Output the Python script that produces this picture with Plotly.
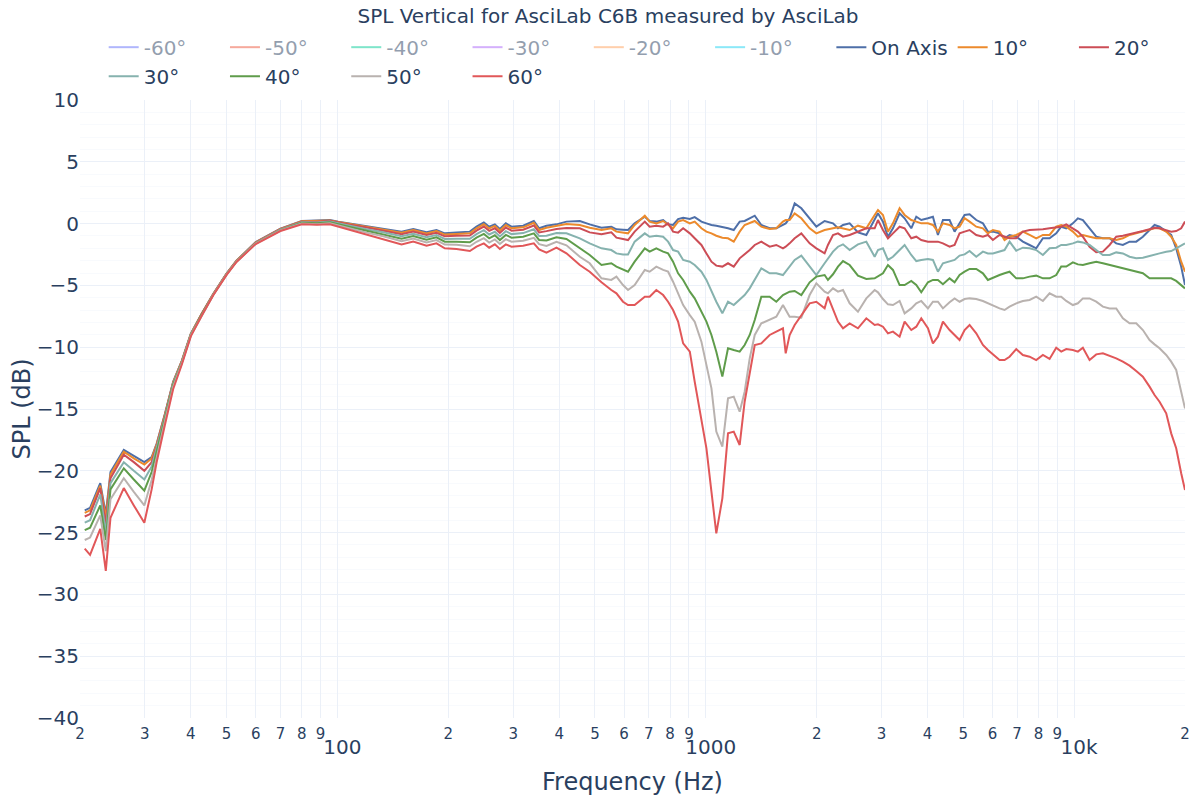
import plotly.graph_objects as go

TITLE = "SPL Vertical for AsciLab C6B measured by AsciLab"

FREQ = [
    20.6, 21.3, 22.7, 23.5, 24.2, 26.3, 28.0, 29.9, 31.3, 32.3, 34.0, 35.8, 37.8, 40.0,
    42.8, 46.0, 50.0, 53.2, 60.0, 70.0, 80.0, 88.0,
    95.4, 100.5, 108.1, 120.0, 133.1, 149.3, 160.6, 174.5, 185.7, 195.6, 210.5, 228.8,
    238.5, 249.7, 258.2, 267.5, 276.0, 286.5, 296.9, 319.3, 341.3, 352.8, 369.4, 393.2, 418.5,
    455, 484, 521, 554, 572, 596, 615, 641, 683, 704, 734, 766, 790, 815, 841, 868, 905, 933,
    973, 1004, 1036, 1068, 1109, 1149, 1191, 1236, 1275, 1316, 1358, 1415, 1491, 1554, 1620,
    1648, 1689, 1743, 1817, 1914, 1996, 2102, 2146, 2215, 2285, 2358, 2458, 2589, 2728,
    2874, 2934, 3027, 3123, 3222, 3359, 3466, 3613, 3728, 3846, 4010, 4137, 4268, 4404, 4591,
    4737, 4887, 5042, 5202, 5424, 5654, 5833, 6018, 6274, 6473, 6679, 6963, 7259, 7569, 7891,
    8227, 8577, 8942, 9226, 9519, 9923, 10238, 10563, 11013, 11482, 11970, 12480, 13011,
    13564, 14142, 14743, 15370, 16025, 16533, 17057, 17783, 18346, 18928, 19529, 20000,
]

SPL_ON_AXIS = [
    -23.2, -23.0, -21.0, -23.5, -20.1, -18.3, -18.8, -19.3, -18.9, -17.8, -15.4, -12.8, -11.1, -8.9,
    -7.3, -5.7, -4.05, -3.0, -1.5, -0.4, 0.22, 0.25,
    0.29, 0.16, 0.02, -0.17, -0.38, -0.65, -0.44, -0.70, -0.52, -0.79, -0.73, -0.65,
    -0.25, 0.10, -0.25, -0.06, -0.44, 0.02, -0.25, -0.17, 0.21, -0.38, -0.17, -0.06, 0.16,
    0.21, -0.06, -0.33, -0.25, -0.46, -0.49, -0.52, 0.02, 0.56, 0.21, 0.16, 0.29, -0.06, -0.11,
    0.37, 0.48, 0.37, 0.53, 0.16, 0.02, -0.11, -0.17, -0.25, -0.38, -0.52, 0.16, 0.21, 0.43,
    0.64, -0.11, -0.38, -0.38, -0.11, 0.02, 0.43, 1.64, 1.24, 0.43, -0.25, 0.21, 0.12, 0.02,
    -0.38, -0.11, 0.02, -0.71, -0.92,
    0.43, 0.83, 0.16, -1.06, -0.38, 0.83, 0.43, -0.38, 0.56, 0.29, 0.43, 0.56, -0.92, 0.29,
    0.29, -0.65, 0.02, 0.70, 0.75, 0.29, 0.02, -0.65, -0.65, -0.79, -1.19, -0.92, -1.06, -1.46,
    -1.73, -2.0, -1.19, -1.19, -0.79, -0.25, -0.38, 0.02, 0.43, 0.29, -0.38, -1.06, -1.19,
    -1.19, -1.60, -1.73, -1.46, -1.46, -1.06, -0.52, -0.11, -0.25, -0.65, -0.92, -2.0, -3.48,
    -4.97,
]

SPL_10 = [
    -23.4, -23.2, -21.2, -23.8, -20.3, -18.45, -19.0, -19.5, -19.0, -17.86, -15.45, -12.85, -11.1, -8.9,
    -7.3, -5.7, -4.05, -3.0, -1.52, -0.43, 0.19, 0.21,
    0.26, 0.13, -0.02, -0.23, -0.45, -0.73, -0.52, -0.79, -0.61, -0.89, -0.84, -0.78,
    -0.38, -0.04, -0.39, -0.19, -0.57, -0.12, -0.38, -0.30, 0.07, -0.52, -0.34, -0.21, -0.04,
    -0.11, -0.33, -0.52, -0.38, -0.65, -0.71, -0.79, -0.11, 0.64, 0.16, 0.02, 0.21, -0.11, -0.38,
    0.16, 0.29, 0.02, 0.16, -0.38, -0.65, -0.79, -0.98, -1.14, -1.19, -1.46, -0.65, -0.11, 0.02,
    0.21, -0.25, -0.44, -0.38, 0.16, 0.29, 0.29, 0.83, 0.43, -0.38, -0.79, -0.52, -0.45, -0.38,
    -0.30, -0.38, -0.52, -0.17, -0.38,
    0.70, 1.10, 0.70, -0.65, 0.02, 1.24, 0.70, 0.29, 0.16, 0.02, 0.02, -0.11, -0.65, 0.02,
    -0.11, -0.38, -0.25, 0.43, 0.16, -0.25, -0.38, -0.79, -0.52, -0.65, -1.33, -1.06, -0.92, -0.65,
    -0.92, -1.19, -0.92, -0.92, -0.25, -0.11, -0.25, -0.65, -1.06, -0.92, -1.06, -1.19, -1.19,
    -1.19, -1.33, -1.19, -0.92, -0.79, -0.65, -0.52, -0.38, -0.38, -0.65, -1.06, -1.73, -3.08,
    -3.89,
]

SPL_20 = [
    -23.7, -23.5, -21.4, -24.3, -20.6, -18.7, -19.3, -20.0, -19.3, -18.0, -15.5, -12.9, -11.15, -8.95,
    -7.32, -5.72, -4.07, -3.02, -1.54, -0.46, 0.15, 0.15,
    0.22, 0.08, -0.09, -0.32, -0.55, -0.86, -0.64, -0.92, -0.74, -1.03, -0.99, -0.96,
    -0.57, -0.24, -0.59, -0.38, -0.76, -0.32, -0.57, -0.49, -0.15, -0.72, -0.61, -0.44, -0.35,
    -0.38, -0.71, -0.87, -0.71, -1.14, -1.25, -1.33, -0.65, 0.16, -0.25, -0.17, -0.25, 0.02, -0.65,
    -0.73, -0.38, -0.79, -1.19, -1.73, -2.41, -3.08, -3.40, -3.48, -3.21, -3.48, -2.81, -2.49, -2.14,
    -1.73, -1.46, -1.87, -1.73, -2.0, -1.87, -1.60, -1.19, -0.79, -1.60, -2.0, -2.41, -1.73, -0.92,
    -0.79, -1.06, -0.92, -0.65, -0.38,
    -0.38, 0.29, -0.52, -1.19, -0.79, -0.25, -0.38, -1.19, -1.06, -1.33, -1.46, -1.46, -1.46, -1.60,
    -1.87, -1.73, -0.79, -0.65, -0.52, -0.92, -1.06, -0.92, -1.33, -0.92, -1.06, -1.19, -1.19, -0.65,
    -0.52, -0.52, -0.46, -0.38, -0.30, -0.25, -0.06, -0.38, -0.65, -1.06, -1.87, -2.32, -2.27,
    -1.73, -1.06, -0.98, -0.87, -0.71, -0.60, -0.46, -0.33, -0.38, -0.52, -0.65, -0.60, -0.38,
    0.16,
]

SPL_30 = [
    -24.2, -24.0, -21.9, -25.0, -21.0, -19.3, -20.0, -20.7, -19.65, -18.2, -15.65, -12.95, -11.2, -8.95,
    -7.35, -5.74, -4.09, -3.04, -1.57, -0.5, 0.11, 0.08,
    0.16, 0.01, -0.18, -0.45, -0.70, -1.03, -0.82, -1.10, -0.92, -1.24, -1.22, -1.23,
    -0.85, -0.53, -0.88, -0.66, -1.04, -0.61, -0.85, -0.77, -0.46, -1.01, -0.98, -0.76, -0.79,
    -1.19, -1.60, -2.0, -2.14, -2.41, -2.49, -2.49, -1.46, -0.79, -1.06, -0.98, -1.06, -1.46, -2.14,
    -2.27, -2.94, -3.08, -3.35, -3.89, -4.56, -5.51, -6.32, -7.26, -6.32, -6.59, -6.18, -5.78, -5.24,
    -4.56, -3.62, -4.02, -4.02, -4.16, -3.89, -3.48, -2.94, -2.59, -3.48, -4.16, -3.21, -2.81, -2.27,
    -1.87, -1.68, -2.14, -1.68, -1.46,
    -2.68, -2.14, -2.0, -2.94, -2.68, -2.14, -1.73, -2.54, -3.03, -2.94, -2.86, -2.94, -3.89, -3.21,
    -3.08, -2.94, -2.59, -2.49, -2.22, -2.68, -2.27, -2.41, -2.41, -2.27, -2.14, -1.46, -2.19, -1.95,
    -2.0, -2.14, -2.54, -2.0, -1.95, -1.73, -1.73, -1.60, -1.46, -1.52, -1.73, -2.14, -2.54,
    -2.54, -2.33, -2.41, -2.68, -2.81, -2.76, -2.62, -2.54, -2.41, -2.27, -2.22, -2.0, -1.79,
    -1.60,
]

SPL_40 = [
    -24.8, -24.6, -22.8, -25.6, -21.5, -19.8, -20.7, -21.6, -20.1, -18.5, -15.8, -13.05, -11.25, -9.0,
    -7.38, -5.76, -4.11, -3.06, -1.6, -0.53, 0.06, 0.02,
    0.10, -0.07, -0.28, -0.58, -0.86, -1.22, -1.0, -1.30, -1.11, -1.46, -1.46, -1.51,
    -1.14, -0.84, -1.19, -0.95, -1.33, -0.92, -1.14, -1.06, -0.79, -1.32, -1.37, -1.10, -1.25,
    -2.0, -2.54, -3.35, -3.21, -3.48, -3.75, -3.89, -3.08, -2.0, -2.27, -2.0, -2.27, -2.41, -3.08,
    -4.02, -4.56, -5.51, -6.05, -7.13, -7.93, -9.01, -10.36, -12.38, -10.09, -10.23, -10.36, -9.82, -9.01,
    -7.80, -5.91, -5.91, -6.32, -5.78, -5.64, -5.51, -5.45, -5.78, -4.75, -4.29, -4.16, -4.56, -4.10,
    -3.48, -3.03, -3.35, -4.21, -4.48,
    -4.43, -4.29, -4.02, -3.35, -3.75, -4.97, -4.97, -4.64, -4.97, -5.56, -4.75, -4.56, -4.56, -4.91,
    -4.43, -4.75, -4.16, -3.89, -3.67, -3.67, -4.02, -4.56, -4.37, -4.16, -4.02, -3.89, -4.43, -4.43,
    -4.29, -4.21, -4.43, -4.43, -4.16, -3.48, -3.48, -3.13, -3.30, -3.35, -3.21, -3.08, -3.21,
    -3.35, -3.48, -3.62, -3.75, -3.89, -4.02, -4.43, -4.43, -4.43, -4.43, -4.43, -4.64, -4.97,
    -5.24,
]

SPL_50 = [
    -25.6, -25.4, -23.6, -26.5, -22.3, -20.6, -21.7, -22.8, -20.75, -18.9, -16.0, -13.2, -11.3, -9.05,
    -7.41, -5.78, -4.13, -3.08, -1.62, -0.56, 0.01, -0.05,
    0.03, -0.15, -0.39, -0.73, -1.03, -1.42, -1.21, -1.52, -1.33, -1.70, -1.72, -1.83,
    -1.47, -1.18, -1.53, -1.28, -1.65, -1.26, -1.47, -1.39, -1.15, -1.66, -1.81, -1.48, -1.76,
    -2.68, -3.21, -4.43, -4.56, -4.29, -4.97, -5.37, -4.97, -3.75, -3.89, -3.48, -3.75, -3.89, -4.70,
    -5.64, -6.59, -7.40, -7.93, -9.55, -11.44, -13.33, -16.83, -18.05, -14.14, -14.00, -15.22, -13.60, -10.90,
    -9.01, -8.07, -7.80, -7.53, -6.59, -6.99, -7.53, -7.53, -7.61, -5.78, -4.83, -5.51, -5.64, -5.24,
    -5.51, -5.37, -6.45, -7.13, -6.05,
    -5.37, -5.56, -6.10, -6.53, -6.59, -6.26, -7.26, -6.86, -6.45, -6.26, -6.86, -6.32, -6.32, -6.86,
    -6.37, -6.05, -6.32, -6.10, -6.05, -6.10, -6.26, -6.45, -6.59, -6.86, -6.99, -6.72, -6.45, -6.26,
    -6.18, -5.91, -6.26, -5.64, -5.91, -5.91, -6.26, -6.59, -6.45, -6.05, -6.05, -6.32, -6.72,
    -6.86, -6.86, -7.66, -8.07, -8.07, -8.61, -9.42, -9.77, -10.09, -10.63, -11.17, -11.84, -13.60,
    -14.95,
]

SPL_60 = [
    -26.3, -26.8, -24.7, -28.1, -23.8, -21.4, -22.8, -24.2, -21.5, -19.3, -16.3, -13.4, -11.4, -9.1,
    -7.45, -5.8, -4.15, -3.1, -1.65, -0.6, -0.05, -0.1,
    -0.06, -0.25, -0.52, -0.92, -1.25, -1.68, -1.46, -1.79, -1.60, -2.0, -2.05, -2.22,
    -1.87, -1.60, -1.95, -1.68, -2.05, -1.68, -1.87, -1.79, -1.60, -2.08, -2.35, -1.95, -2.40,
    -3.35, -3.89, -4.75, -5.37, -5.64, -6.32, -6.59, -6.59, -5.91, -5.91, -5.37, -5.78, -6.32, -6.99,
    -7.93, -9.69, -10.36, -12.79, -16.02, -18.18, -21.69, -25.06, -22.23, -16.97, -16.83, -17.91, -14.41, -11.98,
    -9.82, -9.69, -9.01, -8.74, -8.47, -10.50, -9.01, -8.20, -7.40, -6.45, -6.32, -6.86, -5.91, -6.99,
    -7.93, -8.47, -8.07, -8.47, -7.66,
    -8.20, -8.15, -8.34, -8.88, -8.74, -9.15, -7.93, -8.61, -8.34, -7.66, -8.47, -9.69, -9.15, -7.93,
    -8.61, -9.01, -9.42, -8.61, -8.20, -8.88, -9.82, -10.23, -10.58, -11.04, -11.04, -10.77, -10.15, -10.63,
    -10.77, -11.04, -10.63, -10.95, -10.04, -10.36, -10.15, -10.23, -10.36, -10.04, -11.04, -10.58, -10.50,
    -10.69, -10.90, -11.17, -11.49, -11.92, -12.38, -13.19, -13.87, -14.41, -15.35, -16.97, -18.18, -20.20,
    -21.55,
]

# Negative angles are hidden (legend only) in the reference; their curves are not shown.
HIDDEN_NAMES = ["-60°", "-50°", "-40°", "-30°", "-20°", "-10°"]
HIDDEN_COLORS = ["#636efa", "#EF553B", "#00cc96", "#ab63fa", "#FFA15A", "#19d3f3"]

SHOWN_NAMES = ["On Axis", "10°", "20°", "30°", "40°", "50°", "60°"]
SHOWN_VALUES = [SPL_ON_AXIS, SPL_10, SPL_20, SPL_30, SPL_40, SPL_50, SPL_60]
SHOWN_COLORS = ["#4e6fa8", "#ec8a2c", "#cc4d56", "#86b2ae", "#5f9c4b", "#b9b2af", "#e15759"]

fig = go.Figure()
for name, color in zip(HIDDEN_NAMES, HIDDEN_COLORS):
    fig.add_trace(go.Scatter(x=FREQ[:1], y=[None], mode="lines", name=name,
                             line=dict(color=color, width=2), visible="legendonly"))
for name, vals, color in zip(SHOWN_NAMES, SHOWN_VALUES, SHOWN_COLORS):
    fig.add_trace(go.Scatter(x=FREQ, y=vals, mode="lines", name=name,
                             line=dict(color=color, width=2)))

fig.update_layout(
    template="plotly_white",
    width=1200, height=800,
    font=dict(family="DejaVu Sans, Verdana, sans-serif", color="#2a3f5f"),
    title=dict(text=TITLE, x=0.5, xanchor="center", y=0.999, yanchor="top",
               font=dict(size=20)),
    legend=dict(orientation="h", x=0.497, xanchor="center", y=1.007, yanchor="bottom",
                font=dict(size=20)),
    margin=dict(l=72, r=23, t=92, b=90),
    xaxis=dict(type="log", range=[1.30103, 4.30103], dtick="D1", automargin=False,
               ticklabelstandoff=5,
               title=dict(text="Frequency (Hz)", font=dict(size=24)),
               tickfont=dict(size=20), showline=False, zeroline=False),
    yaxis=dict(range=[-40, 10], dtick=5, automargin=False,
               title=dict(text="SPL (dB)", font=dict(size=24), standoff=20),
               tickfont=dict(size=20), zeroline=False,
               minor=dict(dtick=1, showgrid=True)),
)

fig.write_html("out.html")
